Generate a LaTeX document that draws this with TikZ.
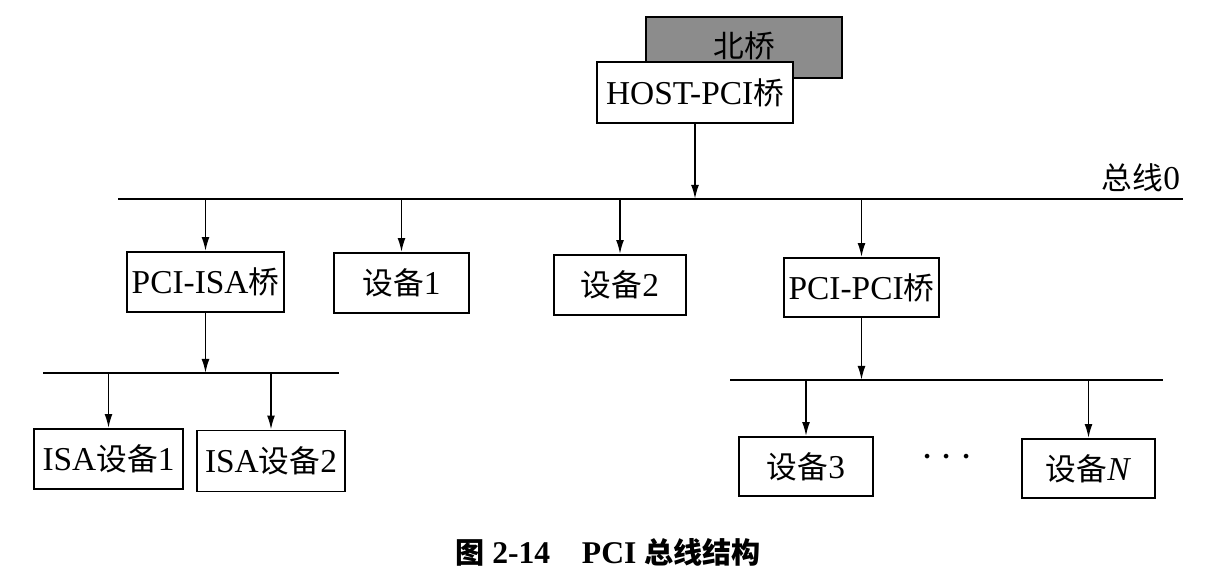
\documentclass[tikz,border=0pt]{standalone}
\usepackage{fontspec}
\setmainfont{Liberation Serif}
\newfontfamily\zh{Noto Sans CJK SC}[Scale=0.92]
\usetikzlibrary{arrows.meta}

\begin{document}
\begin{tikzpicture}[x=0.02cm, y=-0.02cm, line width=1pt,
    main/.style = {draw, rectangle, fill=white, inner sep=0pt, font=\fontsize{19}{22}\selectfont},
    bus/.style = {line width=1.1pt},
    arr/.style = {-{Latex[length=8pt,width=4.5pt]}}]
    \useasboundingbox (0,0) rectangle (1230,584);
    \node[main, fill=black!45, minimum width=196*0.02cm, minimum height=61*0.02cm] (north) at (744,47.5) {\raisebox{3pt}{\zh 北桥}};
    \node[main, minimum width=196*0.02cm, minimum height=61*0.02cm] (host) at (695,92.5) {HOST-PCI{\zh 桥}};
    \coordinate (b0l) at (118,199);
    \coordinate (b0r) at (1183,199);
    \draw[bus] (b0l) -- (b0r);
    \node[font=\fontsize{19}{22}\selectfont] (b0lbl) at (1141,178) {{\zh 总线}0};
    \node[main, minimum width=157*0.02cm, minimum height=60*0.02cm] (isabr) at (205.5,282) {PCI-ISA{\zh 桥}};
    \node[main, minimum width=135*0.02cm, minimum height=60*0.02cm] (dev1) at (401.5,283) {{\zh 设备}1};
    \node[main, minimum width=132*0.02cm, minimum height=60*0.02cm] (dev2) at (620,285) {{\zh 设备}2};
    \node[main, minimum width=155*0.02cm, minimum height=59*0.02cm] (pcibr) at (861.5,287.5) {PCI-PCI{\zh 桥}};
    \coordinate (isal) at (43,373);
    \coordinate (isar) at (339,373);
    \draw[bus] (isal) -- (isar);
    \coordinate (pcil) at (730,380);
    \coordinate (pcir) at (1163,380);
    \draw[bus] (pcil) -- (pcir);
    \node[main, minimum width=149*0.02cm, minimum height=60*0.02cm] (isa1) at (108.5,459) {ISA{\zh 设备}1};
    \node[main, minimum width=148*0.02cm, minimum height=61*0.02cm] (isa2) at (271,461) {ISA{\zh 设备}2};
    \node[main, minimum width=134*0.02cm, minimum height=59*0.02cm] (dev3) at (806,466.5) {{\zh 设备}3};
    \node[main, minimum width=133*0.02cm, minimum height=59*0.02cm] (devn) at (1088.5,468.5) {{\zh 设备}\textit{N}};
    \node[font=\fontsize{23}{23}\selectfont] (dots) at (947,458) {$\cdots$};
    \draw[arr] (host) -- (host |- b0l);
    \draw[arr] (isabr |- b0l) -- (isabr);
    \draw[arr] (dev1 |- b0l) -- (dev1);
    \draw[arr] (dev2 |- b0l) -- (dev2);
    \draw[arr] (pcibr |- b0l) -- (pcibr);
    \draw[arr] (isabr) -- (isabr |- isal);
    \draw[arr] (isa1 |- isal) -- (isa1);
    \draw[arr] (isa2 |- isal) -- (isa2);
    \draw[arr] (pcibr) -- (pcibr |- pcil);
    \draw[arr] (dev3 |- pcil) -- (dev3);
    \draw[arr] (devn |- pcil) -- (devn);
    \node[font=\fontsize{18}{22}\selectfont\bfseries] (caption) at (608,552) {{\zh 图} 2-14\hspace{18pt}PCI {\zh 总线结构}};
\end{tikzpicture}
\end{document}
